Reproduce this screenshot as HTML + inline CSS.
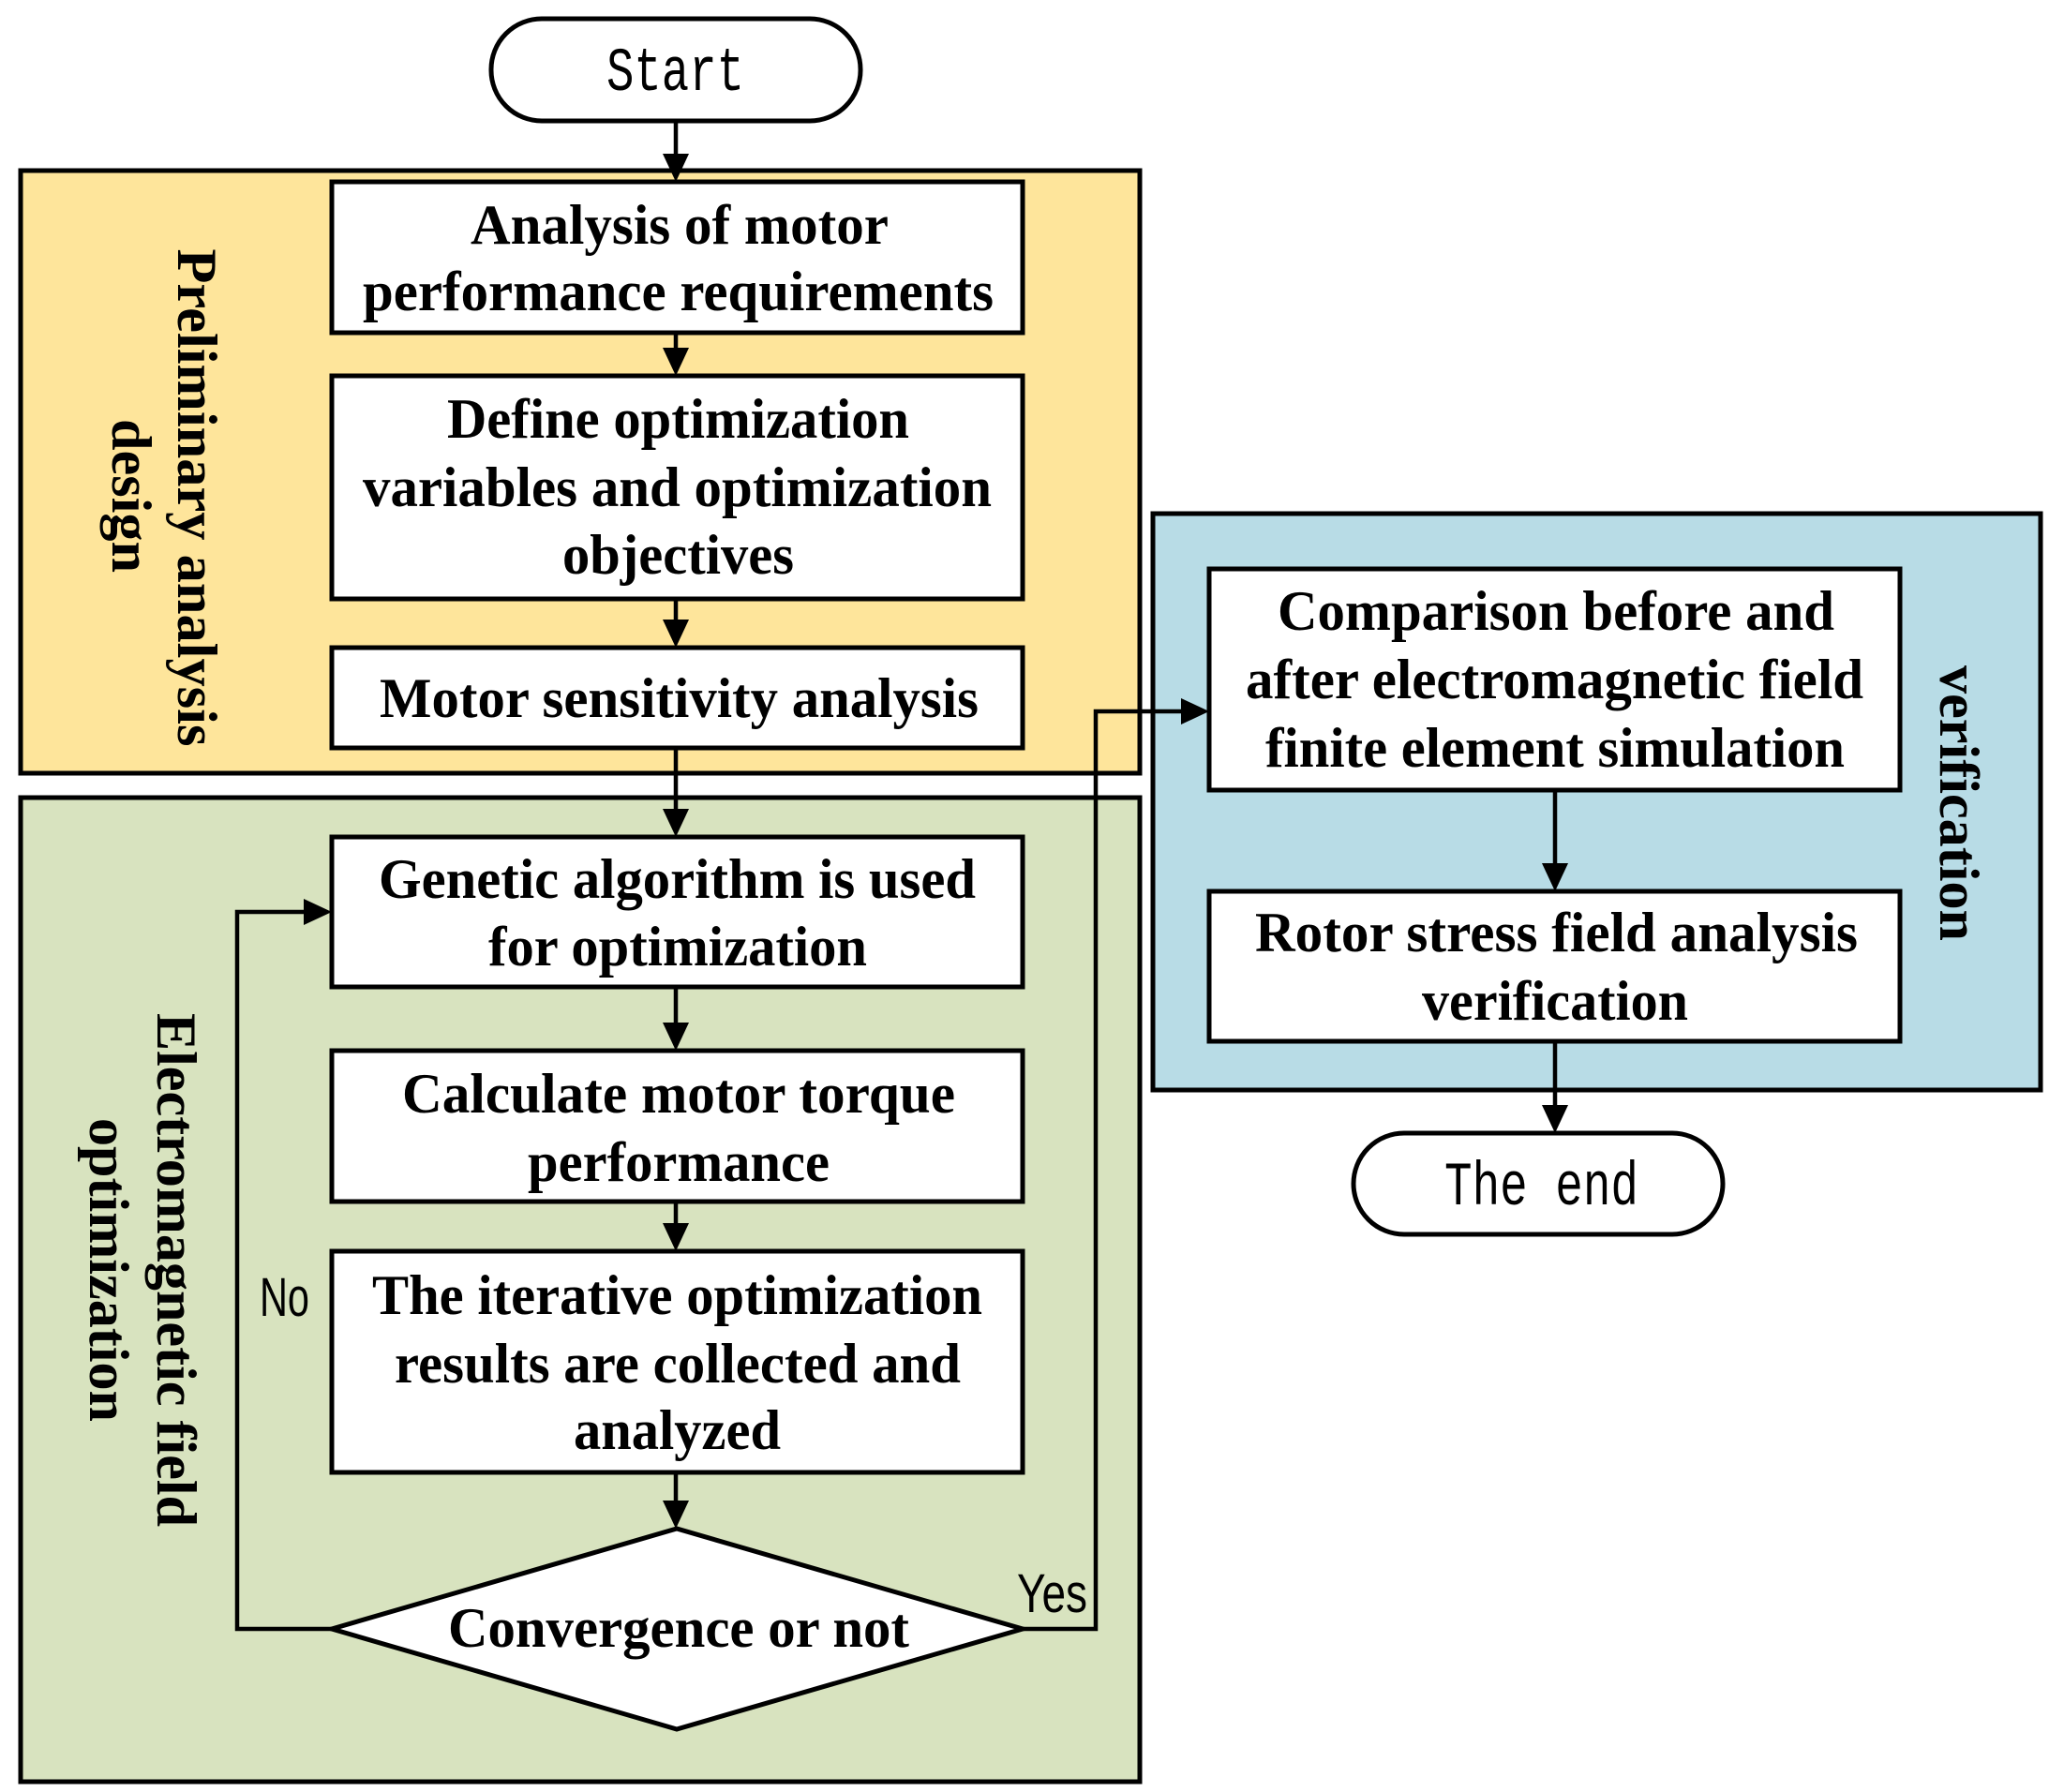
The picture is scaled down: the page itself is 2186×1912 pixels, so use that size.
<!DOCTYPE html>
<html><head><meta charset="utf-8"><style>html,body{margin:0;padding:0;background:#fff}svg{display:block}</style></head>
<body>
<svg width="2186" height="1912" viewBox="0 0 2186 1912" xmlns="http://www.w3.org/2000/svg">
<g stroke="#000" stroke-width="5">
<rect x="22" y="182" width="1194" height="643" fill="#FEE59B"/>
<rect x="22" y="851" width="1194" height="1050" fill="#D8E3BF"/>
<rect x="1230" y="548" width="947" height="615" fill="#B8DCE6"/>
<rect x="524" y="20" width="394" height="109" rx="54" fill="#fff"/>
<rect x="1444" y="1209" width="394" height="108" rx="54" fill="#fff"/>
<rect x="354" y="194" width="737" height="161" fill="#fff"/>
<rect x="354" y="401" width="737" height="238" fill="#fff"/>
<rect x="354" y="691" width="737" height="107" fill="#fff"/>
<rect x="354" y="893" width="737" height="160" fill="#fff"/>
<rect x="354" y="1121" width="737" height="161" fill="#fff"/>
<rect x="354" y="1335" width="737" height="236" fill="#fff"/>
<polygon points="354,1738 722,1631 1091,1738 722,1845" fill="#fff"/>
<rect x="1290" y="607" width="737" height="236" fill="#fff"/>
<rect x="1290" y="951" width="737" height="160" fill="#fff"/>
</g>
<g stroke="#000" stroke-width="4.5" fill="none">
<line x1="721" y1="129" x2="721" y2="180"/>
<line x1="721" y1="355" x2="721" y2="390"/>
<line x1="721" y1="639" x2="721" y2="680"/>
<line x1="721" y1="798" x2="721" y2="880"/>
<line x1="721" y1="1053" x2="721" y2="1110"/>
<line x1="721" y1="1282" x2="721" y2="1324"/>
<line x1="721" y1="1571" x2="721" y2="1620"/>
<polyline points="354,1738 253,1738 253,973 340,973"/>
<polyline points="1091,1738 1169,1738 1169,759 1276,759"/>
<line x1="1659" y1="843" x2="1659" y2="940"/>
<line x1="1659" y1="1111" x2="1659" y2="1198"/>
</g>
<g fill="#000">
<path d="M707,164 L735,164 L721,194z"/>
<path d="M707,371 L735,371 L721,401z"/>
<path d="M707,661 L735,661 L721,691z"/>
<path d="M707,863 L735,863 L721,893z"/>
<path d="M707,1091 L735,1091 L721,1121z"/>
<path d="M707,1305 L735,1305 L721,1335z"/>
<path d="M707,1601 L735,1601 L721,1631z"/>
<path d="M324,959 L324,987 L354,973z"/>
<path d="M1260,745 L1260,773 L1290,759z"/>
<path d="M1645,921 L1673,921 L1659,951z"/>
<path d="M1645,1179 L1673,1179 L1659,1209z"/>
</g>
<g font-family="Liberation Serif, serif" font-weight="bold" font-size="60" fill="#000">
<text x="502" y="260" textLength="446" lengthAdjust="spacingAndGlyphs">Analysis of motor</text>
<text x="387" y="331" textLength="673" lengthAdjust="spacingAndGlyphs">performance requirements</text>
<text x="477" y="467" textLength="493" lengthAdjust="spacingAndGlyphs">Define optimization</text>
<text x="387" y="540" textLength="671" lengthAdjust="spacingAndGlyphs">variables and optimization</text>
<text x="600" y="612" textLength="247" lengthAdjust="spacingAndGlyphs">objectives</text>
<text x="405" y="765" textLength="639" lengthAdjust="spacingAndGlyphs">Motor sensitivity analysis</text>
<text x="404" y="958" textLength="637" lengthAdjust="spacingAndGlyphs">Genetic algorithm is used</text>
<text x="521" y="1030" textLength="404" lengthAdjust="spacingAndGlyphs">for optimization</text>
<text x="429" y="1187" textLength="590" lengthAdjust="spacingAndGlyphs">Calculate motor torque</text>
<text x="563" y="1260" textLength="322" lengthAdjust="spacingAndGlyphs">performance</text>
<text x="397" y="1402" textLength="651" lengthAdjust="spacingAndGlyphs">The iterative optimization</text>
<text x="421" y="1475" textLength="604" lengthAdjust="spacingAndGlyphs">results are collected and</text>
<text x="612" y="1546" textLength="221" lengthAdjust="spacingAndGlyphs">analyzed</text>
<text x="478" y="1757" textLength="492" lengthAdjust="spacingAndGlyphs">Convergence or not</text>
<text x="1363" y="672" textLength="594" lengthAdjust="spacingAndGlyphs">Comparison before and</text>
<text x="1329" y="745" textLength="659" lengthAdjust="spacingAndGlyphs">after electromagnetic field</text>
<text x="1350" y="818" textLength="618" lengthAdjust="spacingAndGlyphs">finite element simulation</text>
<text x="1339" y="1015" textLength="643" lengthAdjust="spacingAndGlyphs">Rotor stress field analysis</text>
<text x="1517" y="1088" textLength="284" lengthAdjust="spacingAndGlyphs">verification</text>
<text transform="translate(190,531) rotate(90)" text-anchor="middle" textLength="531" lengthAdjust="spacingAndGlyphs">Preliminary analysis</text>
<text transform="translate(120,529) rotate(90)" text-anchor="middle" textLength="164" lengthAdjust="spacingAndGlyphs">design</text>
<text transform="translate(168,1355) rotate(90)" text-anchor="middle" textLength="548" lengthAdjust="spacingAndGlyphs">Electromagnetic field</text>
<text transform="translate(96,1355) rotate(90)" text-anchor="middle" textLength="324" lengthAdjust="spacingAndGlyphs">optimization</text>
<text transform="translate(2070,857) rotate(90)" text-anchor="middle" textLength="294" lengthAdjust="spacingAndGlyphs">verification</text>
</g>
<g font-family="Liberation Mono, monospace" font-size="66" fill="#000">
<text x="647" y="96" textLength="147" lengthAdjust="spacingAndGlyphs">Start</text>
<text x="1541" y="1285" textLength="207" lengthAdjust="spacingAndGlyphs">The end</text>
</g>
<g font-family="Liberation Sans Narrow, Liberation Sans, sans-serif" font-size="58" fill="#000">
<text x="277" y="1404" textLength="53" lengthAdjust="spacingAndGlyphs">No</text>
<text x="1085" y="1720" textLength="75" lengthAdjust="spacingAndGlyphs">Yes</text>
</g>
</svg>
</body></html>
